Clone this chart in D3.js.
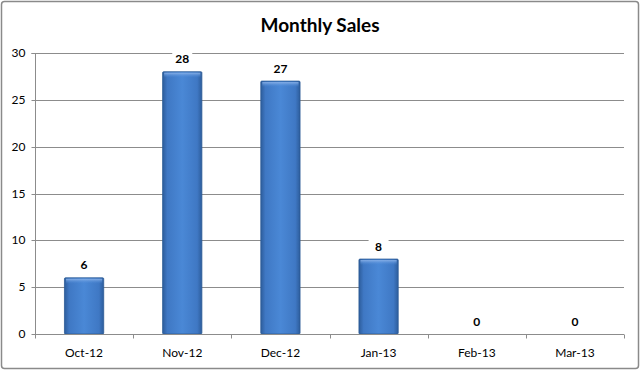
<!DOCTYPE html>
<html><head><meta charset="utf-8">
<script src="https://cdn.jsdelivr.net/npm/d3@7"></script>
<style>body{margin:0;background:#fff}svg{display:block}</style>
</head><body>
<svg id="c" width="640" height="370"></svg>
<script>
const categories = ["Oct-12","Nov-12","Dec-12","Jan-13","Feb-13","Mar-13"];
const sales = [6,28,27,8,0,0];
const yTicks = [0,5,10,15,20,25,30];
const title = "Monthly Sales";

const svg = d3.select("#c");
const font = "Lato, 'Open Sans', sans-serif";
const m = {l:35, r:16, t:53, b:36};
const W = 640, H = 370;

svg.append("rect").attr("x",1.5).attr("y",1.5).attr("width",W-3).attr("height",H-3)
  .attr("rx",3).attr("fill","#fff").attr("stroke","#8a8a8a").attr("stroke-width",1.5);

const defs = svg.append("defs");
const g1 = defs.append("linearGradient").attr("id","bar").attr("x1","0").attr("x2","1").attr("y1","0").attr("y2","0");
[[0,"#2d5d9c"],[0.12,"#3f78c4"],[0.5,"#4a88d6"],[0.88,"#3f78c4"],[1,"#2d5d9c"]].forEach(([o,c])=>g1.append("stop").attr("offset",o).attr("stop-color",c));
const g2 = defs.append("linearGradient").attr("id","top").attr("x1","0").attr("x2","0").attr("y1","0").attr("y2","1");
[[0,"#8fb5ea",0.9],[1,"#4a88d6",0]].forEach(([o,c,a])=>g2.append("stop").attr("offset",o).attr("stop-color",c).attr("stop-opacity",a));

const x = d3.scaleBand().domain(categories).range([m.l, W-m.r]).paddingInner(0.6).paddingOuter(0.3);
const xb = d3.scaleBand().domain(categories).range([m.l, W-m.r]);
const y = d3.scaleLinear().domain([0,30]).range([H-m.b, m.t]);

// gridlines
svg.append("g").selectAll("line").data(yTicks.filter(d=>d>0)).join("line")
  .attr("x1",m.l).attr("x2",W-m.r).attr("y1",d=>Math.round(y(d))+0.5).attr("y2",d=>Math.round(y(d))+0.5)
  .attr("stroke","#8c8c8c").attr("stroke-width",1);

// y axis
const ya = svg.append("g").attr("transform",`translate(${m.l+0.5},0)`)
  .call(d3.axisLeft(y).tickValues(yTicks).tickSize(4).tickPadding(6).tickFormat(d3.format("d")));
ya.select(".domain").attr("stroke","#8c8c8c").attr("d",`M-4,${y(30)+0.5}H0V${y(0)+0.5}`);
ya.selectAll(".tick line").attr("stroke","#8c8c8c");
ya.selectAll(".tick").attr("transform",d=>`translate(0,${Math.round(y(d))+0.5})`);
ya.selectAll("text").attr("font-family",font).attr("font-size",12).attr("fill","#000");

// bars
const bars = svg.append("g").selectAll("g").data(sales.map((v,i)=>({c:categories[i],v}))).join("g");
bars.filter(d=>d.v>0).append("rect")
  .attr("x",d=>x(d.c)).attr("y",d=>y(d.v)).attr("width",x.bandwidth()).attr("height",d=>y(0)-y(d.v))
  .attr("fill","url(#bar)").attr("stroke","#2b5a96").attr("stroke-width",0.8).attr("rx",1);
bars.filter(d=>d.v>0).append("rect")
  .attr("x",d=>x(d.c)+1.5).attr("y",d=>y(d.v)+1).attr("width",x.bandwidth()-3).attr("height",5)
  .attr("fill","url(#top)");

// x axis
const xa = svg.append("g").attr("transform",`translate(0,${Math.round(y(0))+0.5})`);
xa.append("line").attr("x1",m.l).attr("x2",W-m.r).attr("stroke","#8c8c8c");
const bounds = categories.map(c=>xb(c)).concat([xb(categories[categories.length-1])+xb.bandwidth()]);
xa.selectAll(".tk").data(bounds).join("line").attr("class","tk")
  .attr("x1",d=>Math.round(d)+0.5).attr("x2",d=>Math.round(d)+0.5).attr("y1",0).attr("y2",4).attr("stroke","#8c8c8c");
xa.selectAll("text").data(categories).join("text")
  .attr("x",d=>xb(d)+xb.bandwidth()/2).attr("y",22).attr("text-anchor","middle")
  .attr("font-family",font).attr("font-size",12).attr("fill","#000").text(d=>d);

// value labels (with white backing like the original)
const lbl = bars.append("g").attr("transform",d=>`translate(${x(d.c)+x.bandwidth()/2},${y(d.v)-8.5})`);
lbl.append("rect").attr("x",-10).attr("y",-11).attr("width",20).attr("height",14).attr("fill","#fff");
lbl.append("text").attr("text-anchor","middle").attr("font-family",font).attr("font-weight","bold").attr("font-size",12)
  .attr("fill","#000").text(d=>d.v);

// title
svg.append("text").attr("x",W/2).attr("y",32).attr("text-anchor","middle")
  .attr("font-family",font).attr("font-weight","bold").attr("font-size",19).attr("fill","#000").text(title);
</script>
</body></html>
